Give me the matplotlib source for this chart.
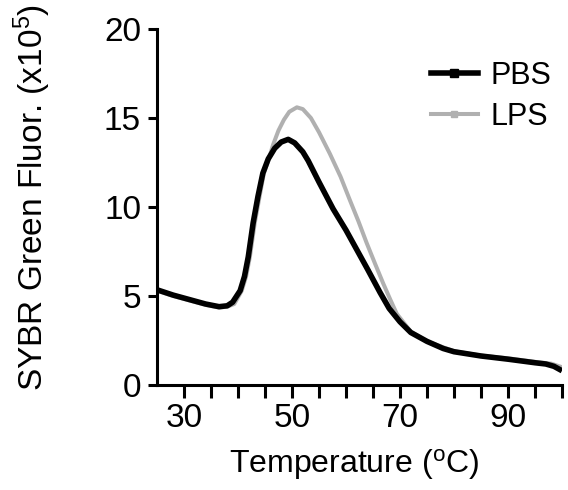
import matplotlib
matplotlib.use("Agg")
import matplotlib.pyplot as plt
from matplotlib.lines import Line2D

plt.rcParams['font.family'] = ['Liberation Sans', 'DejaVu Sans']
plt.rcParams['mathtext.fontset'] = 'custom'
plt.rcParams['mathtext.rm'] = 'Liberation Sans'
plt.rcParams['mathtext.default'] = 'regular'

# melt curve values (x10^5)
pbs_temp = [25, 28, 31, 34, 36.5, 38, 39, 40.4, 41.2, 41.9, 42.8, 43.7, 44.6, 45.6, 46.8,
            48, 49.3, 50.5, 52, 53, 55, 57.6, 60, 62, 64, 66.3, 68, 70, 72, 75,
            78, 80, 85, 90, 95, 97, 98.5, 100]
pbs_fluor = [5.35, 5.05, 4.8, 4.55, 4.4, 4.45, 4.65, 5.3, 6.1, 7.2, 9.1, 10.6, 11.9, 12.7, 13.3,
             13.65, 13.8, 13.6, 13.1, 12.6, 11.4, 9.9, 8.7, 7.6, 6.5, 5.2, 4.3, 3.55, 2.95, 2.45,
             2.05, 1.87, 1.63, 1.45, 1.25, 1.18, 1.05, 0.8]

lps_temp = [25, 28, 31, 34, 36.5, 38, 39.3, 40.7, 41.5, 42.2, 43.1, 44, 44.8, 45.6, 46.5,
            47.5, 48.5, 49.5, 50.9, 52, 53.5, 55, 57, 59, 60.7, 62.3, 63.8, 65.4, 66.9,
            68.2, 69.4, 72, 75, 80, 85, 90, 95, 98, 100]
lps_fluor = [5.3, 5.0, 4.75, 4.5, 4.35, 4.4, 4.55, 5.3, 6.1, 7.2, 9.1, 10.6, 11.9, 12.6, 13.5,
             14.3, 14.9, 15.35, 15.6, 15.5, 15.0, 14.2, 13.0, 11.7, 10.4, 9.2, 8.0, 6.8, 5.7,
             4.8, 4.0, 3.0, 2.45, 1.9, 1.65, 1.5, 1.3, 1.2, 1.0]

x_ticks = list(range(30, 101, 5))
x_labels = [str(t) if t in (30, 50, 70, 90) else '' for t in x_ticks]
y_ticks = [0, 5, 10, 15, 20]

grey = '#b0b0b0'

fig = plt.figure(figsize=(5.68, 4.9), dpi=100)
ax = fig.add_axes([157 / 568, 105 / 490, 405 / 568, 356 / 490])

ax.plot(lps_temp, lps_fluor, color=grey, lw=2.9, solid_capstyle='butt', zorder=2)
ax.plot(pbs_temp, pbs_fluor, color='black', lw=4.0, solid_capstyle='butt', zorder=3)

ax.set_xlim(25, 100)
ax.set_ylim(0, 20)
ax.set_xticks(x_ticks)
ax.set_xticklabels(x_labels)
ax.set_yticks(y_ticks)

for s in ['top', 'right']:
    ax.spines[s].set_visible(False)
for s in ['left', 'bottom']:
    ax.spines[s].set_linewidth(2.2)
ax.tick_params(axis='x', width=2.2, length=9, labelsize=24, pad=4)
ax.tick_params(axis='y', width=2.2, length=6.5, labelsize=24, pad=5)

ax.set_xlabel('Temperature ($^{o}$C)', fontsize=23)
ax.set_ylabel('SYBR Green Fluor. (x10$^{5}$)', fontsize=24)
ax.xaxis.set_label_coords(0.486, -0.174)
ax.yaxis.set_label_coords(-0.258, 0.528)

handles = [Line2D([], [], color='black', lw=4.0, marker='s', markersize=6),
           Line2D([], [], color=grey, lw=2.9, marker='s', markersize=5)]
ax.legend(handles, ['PBS', 'LPS'], loc='upper right', bbox_to_anchor=(1.005, 0.945),
          frameon=False, fontsize=22, handlelength=1.55, handletextpad=0.42,
          labelspacing=0.36, borderaxespad=0)

fig.savefig('out.png', dpi=100)
